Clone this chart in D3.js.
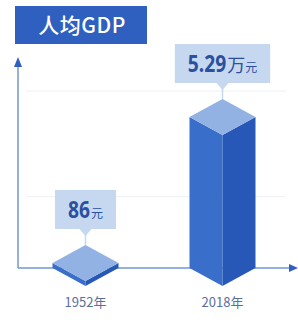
<!DOCTYPE html>
<html>
<head>
<meta charset="utf-8">
<script src="https://cdn.jsdelivr.net/npm/d3@7"></script>
<style>
  body { margin: 0; background: #fff; }
  svg { display: block; }
</style>
</head>
<body>
<svg id="canvas"></svg>
<script>
// data
const years = ["1952年", "2018年"];
const values = [86, 52900];
const valueText = ["86", "5.29"];
const unitBig = ["", "万"];
const unitSmall = ["元", "元"];
const gridValues = [25000, 62000];

const width = 298, height = 323;
const baseY = 268;
const axisX = 18;

var colorTitle = "#2f5fbf";
var colorAxis = "#7196d6";
var colorTop = "#92b2e4";
var colorLeft = "#3a6ecb";
var colorRight = "#2758b7";
var colorBox = "#c6d8f0";
var colorText = "#2a509f";

const svg = d3.select('svg#canvas')
    .attr('width', width)
    .attr('height', height);

const x = d3.scalePoint().domain(years).range([17, 291]).padding(0.5);
const y = d3.scaleLinear().domain([0, 52900]).range([baseY, 117]);

// grid lines
svg.selectAll('line.grid').data(gridValues).enter().append('line')
    .attr('x1', 26).attr('x2', 286)
    .attr('y1', d => y(d)).attr('y2', d => y(d))
    .attr('stroke', '#edf0f5').attr('stroke-width', 1);

// axes
svg.append('line')
    .attr('x1', axisX).attr('x2', axisX)
    .attr('y1', 64).attr('y2', baseY)
    .attr('stroke', colorAxis).attr('stroke-width', 1.5);
svg.append('path')
    .attr('d', `M${axisX - 4},67 L${axisX},57 L${axisX + 4},67 Z`)
    .attr('fill', colorTitle);
svg.append('line')
    .attr('x1', axisX).attr('x2', 290)
    .attr('y1', baseY).attr('y2', baseY)
    .attr('stroke', colorAxis).attr('stroke-width', 1.5);
svg.append('path')
    .attr('d', `M289,${baseY - 4} L298,${baseY} L289,${baseY + 4} Z`)
    .attr('fill', colorTitle);

// title
svg.append('rect')
    .attr('x', 15).attr('y', 6).attr('width', 132).attr('height', 38)
    .attr('fill', colorTitle);
svg.append('text')
    .attr('x', 82).attr('y', 33)
    .attr('text-anchor', 'middle')
    .attr('fill', '#fff')
    .attr('font-family', '"Noto Sans CJK SC", sans-serif')
    .attr('font-size', 21)
    .attr('font-weight', 500)
    .attr('letter-spacing', 0.5)
    .text('人均GDP');

// prisms
const w = 33, dd = 18;
const bars = svg.selectAll('g.bar').data(values).enter().append('g').classed('bar', true);

bars.each(function (v, i) {
    const g = d3.select(this);
    const cx = x(years[i]);
    const yt = Math.min(y(v), baseY - 5);
    const yb = baseY;
    g.append('path')
        .attr('d', `M${cx - w},${yt} L${cx},${yt + dd} L${cx},${yb + dd} L${cx - w},${yb} Z`)
        .attr('fill', colorLeft);
    g.append('path')
        .attr('d', `M${cx},${yt + dd} L${cx + w},${yt} L${cx + w},${yb} L${cx},${yb + dd} Z`)
        .attr('fill', colorRight);
    g.append('path')
        .attr('d', `M${cx - w},${yt} L${cx},${yt - dd} L${cx + w},${yt} L${cx},${yt + dd} Z`)
        .attr('fill', colorTop);

    // label callout
    const topY = yt - dd;
    const boxH = 39;
    const boxBottom = topY - 16;
    const baseLine = boxBottom - 11;
    const lbl = g.append('g');
    const boxRect = lbl.append('rect').attr('fill', colorBox);
    lbl.append('path')
        .attr('d', `M${cx - 6},${boxBottom} L${cx},${boxBottom + 7} L${cx + 6},${boxBottom} Z`)
        .attr('fill', colorBox);
    lbl.append('line')
        .attr('x1', cx).attr('x2', cx)
        .attr('y1', boxBottom + 6).attr('y2', topY)
        .attr('stroke', colorBox).attr('stroke-width', 1.5);

    // pieces of the label: squeezed digits, then units
    const sx = 0.8;
    const pieces = [];
    const num = lbl.append('text')
        .attr('fill', colorText)
        .attr('font-family', '"Noto Sans", sans-serif')
        .attr('font-weight', 'bold')
        .attr('font-size', 24)
        .text(valueText[i]);
    const nw = num.node().getComputedTextLength() * sx;
    pieces.push({ el: num, w: nw, gap: 1, squeeze: true });
    if (unitBig[i]) {
        const u = lbl.append('text').attr('y', baseLine).attr('fill', colorText)
            .attr('font-family', '"Noto Sans CJK SC", sans-serif')
            .attr('font-size', 18).text(unitBig[i]);
        pieces.push({ el: u, w: u.node().getComputedTextLength(), gap: 0 });
    }
    const s = lbl.append('text').attr('y', baseLine).attr('fill', colorText)
        .attr('font-family', '"Noto Sans CJK SC", sans-serif')
        .attr('font-size', 12).text(unitSmall[i]);
    pieces.push({ el: s, w: s.node().getComputedTextLength(), gap: 0 });

    const total = d3.sum(pieces, p => p.w + p.gap);
    let px = cx - total / 2;
    pieces.forEach(p => {
        if (p.squeeze) p.el.attr('transform', `translate(${px},${baseLine}) scale(${sx},1)`);
        else p.el.attr('x', px);
        px += p.w + p.gap;
    });

    const boxW = total + 26;
    boxRect.attr('x', cx - boxW / 2).attr('y', boxBottom - boxH)
        .attr('width', boxW).attr('height', boxH);
});

// category labels
svg.selectAll('text.cat').data(years).enter().append('text')
    .classed('cat', true)
    .attr('x', d => x(d)).attr('y', 307)
    .attr('text-anchor', 'middle')
    .attr('fill', '#5b6f9e')
    .attr('font-family', '"Noto Sans CJK SC", sans-serif')
    .attr('font-size', 13)
    .text(d => d);
</script>
</body>
</html>
